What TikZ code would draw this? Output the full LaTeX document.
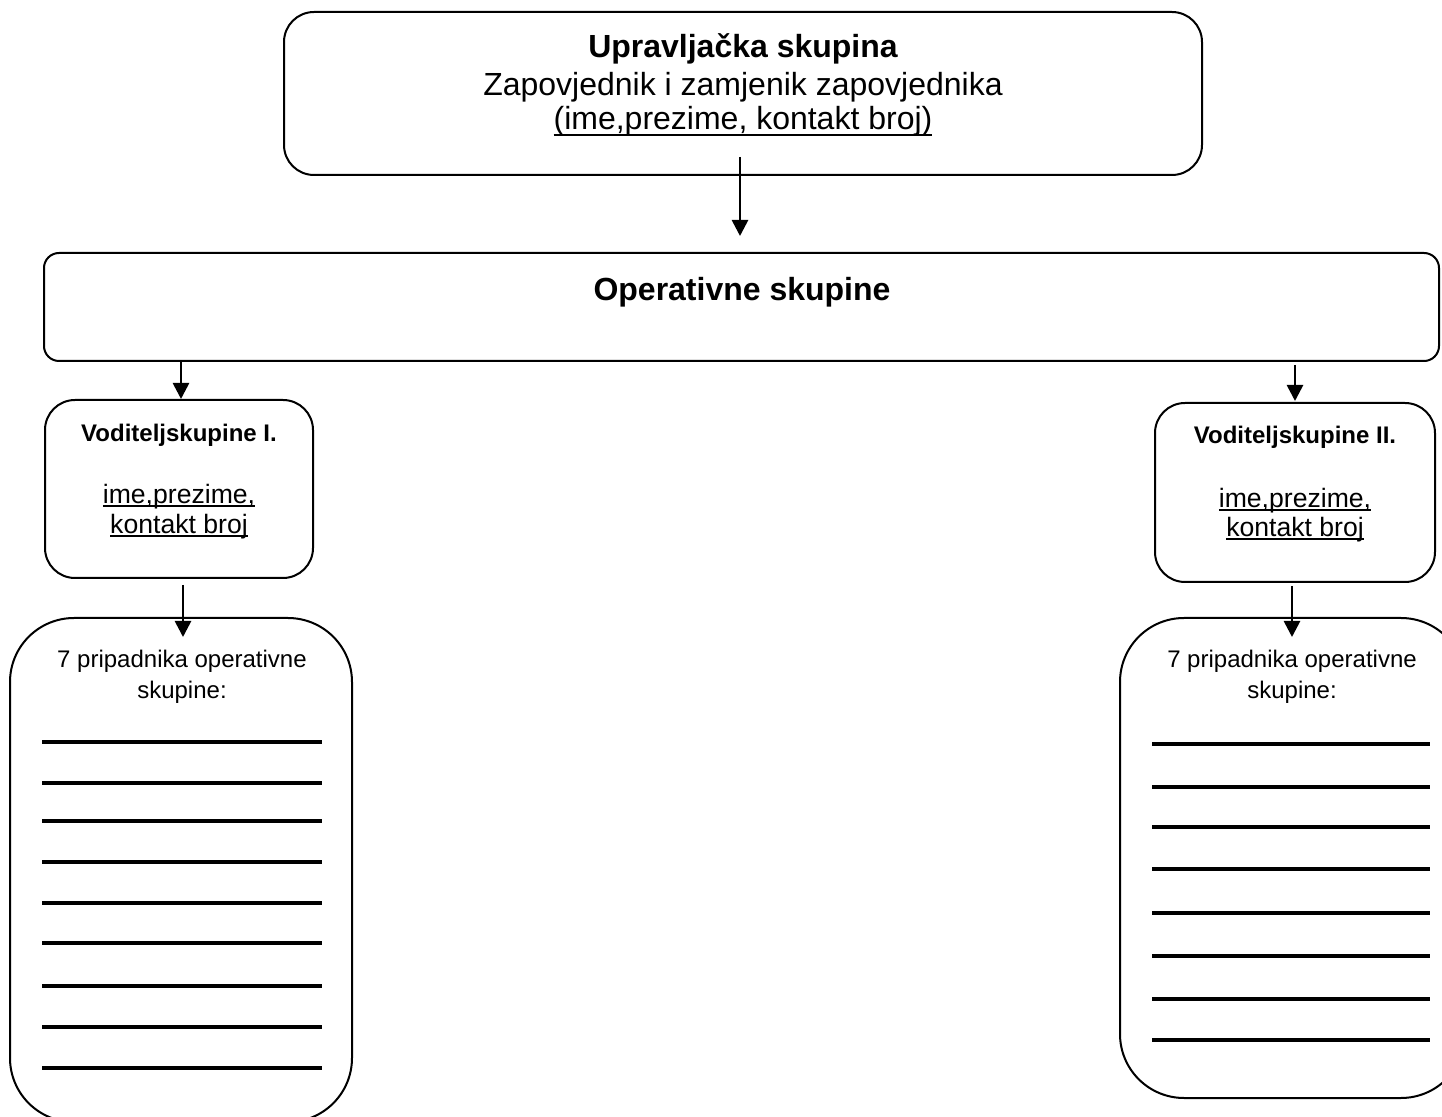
\documentclass[tikz,border=0pt]{standalone}
\usepackage{fontspec}
\setmainfont{Liberation Sans}
\usetikzlibrary{arrows.meta,calc}
\newcommand\undl[2][0.11em]{\leavevmode\setbox0=\hbox{#2}\rlap{\rule[-#1]{\wd0}{0.075em}}\box0}
\tikzset{
  box/.style={draw, line width=1pt, inner sep=0pt},
  arr/.style={line width=1.35pt, -{Triangle[length=8pt,width=8pt]}},
  memline/.style={line width=2pt},
  txt/.style={anchor=base, inner sep=0pt},
}
\begin{document}
\begin{tikzpicture}[x=0.5pt,y=-0.5pt]
\useasboundingbox (0,0) rectangle (1442,1117);
\clip (0,0) rectangle (1442,1117);
\fill[white] (0,0) rectangle (1442,1117);
% boxes
\node[box, rounded corners=15pt, minimum width=459pt, minimum height=81.5pt] (top) at (743,93.5) {};
\node[box, rounded corners=7.5pt, minimum width=697.5pt, minimum height=54pt] (op) at (741.5,307) {};
\node[box, rounded corners=15pt, minimum width=134pt, minimum height=89pt] (l1) at (179,489) {};
\node[box, rounded corners=15pt, minimum width=140pt, minimum height=89.5pt] (l2) at (1295,492.5) {};
\node[box, rounded corners=32pt, minimum width=171pt, minimum height=252pt] (m1) at (181,870) {};
\node[box, rounded corners=32pt, minimum width=172.5pt, minimum height=240pt] (m2) at (1292.5,858) {};
% texts
\node[txt, font=\fontsize{16pt}{19pt}\selectfont\bfseries] (t1) at (743,58) {Upravljačka skupina};
\node[txt, font=\fontsize{16pt}{19pt}\selectfont] (t2) at (743,96) {Zapovjednik i zamjenik zapovjednika};
\node[txt, font=\fontsize{16pt}{19pt}\selectfont] (t3) at (743,130) {\undl[0.2em]{(ime,prezime, kontakt broj)}};
\node[txt, font=\fontsize{16pt}{19pt}\selectfont\bfseries] (ot) at (742,301) {Operativne skupine};
\node[txt, font=\fontsize{12pt}{14pt}\selectfont\bfseries] (l1a) at (179,442) {Voditeljskupine I.};
\node[txt, font=\fontsize{13.3pt}{16pt}\selectfont] (l1b) at (179,504) {\undl{ime,prezime,}};
\node[txt, font=\fontsize{13.3pt}{16pt}\selectfont] (l1c) at (179,534) {\undl{kontakt broj}};
\node[txt, font=\fontsize{12pt}{14pt}\selectfont\bfseries] (l2a) at (1295,444) {Voditeljskupine II.};
\node[txt, font=\fontsize{13.3pt}{16pt}\selectfont] (l2b) at (1295,508) {\undl{ime,prezime,}};
\node[txt, font=\fontsize{13.3pt}{16pt}\selectfont] (l2c) at (1295,537) {\undl{kontakt broj}};
\node[txt, font=\fontsize{12pt}{14pt}\selectfont] (m1a) at (182,668) {7 pripadnika operativne};
\node[txt, font=\fontsize{12pt}{14pt}\selectfont] (m1b) at (182,698) {skupine:};
\node[txt, font=\fontsize{12pt}{14pt}\selectfont] (m2a) at (1292,668) {7 pripadnika operativne};
\node[txt, font=\fontsize{12pt}{14pt}\selectfont] (m2b) at (1292,698) {skupine:};
% connectors
\draw[arr] ($(top.south)+(-3,-19)$) -- ($(op.north)+(-1.5,-16)$);
\draw[arr] ($(l1.north |- op.south)+(2,0)$) -- ($(l1.north)+(2,0)$);
\draw[arr] ($(l2.north |- op.south)+(0,3)$) -- ($(l2.north)+(0,-1)$);
\draw[arr] ($(l1.south)+(4,6)$) -- ($(m1.north -| l1.south)+(4,20)$);
\draw[arr] ($(l2.south)+(-3,3)$) -- ($(m2.north -| l2.south)+(-3,20)$);
% member lines
\foreach \y in {742,783,821,862,903,943,986,1027,1068}
  \draw[memline] (42,\y) -- (322,\y);
\foreach \y in {744,787,827,869,913,956,999,1040}
  \draw[memline] (1152,\y) -- (1430,\y);
\end{tikzpicture}
\end{document}
